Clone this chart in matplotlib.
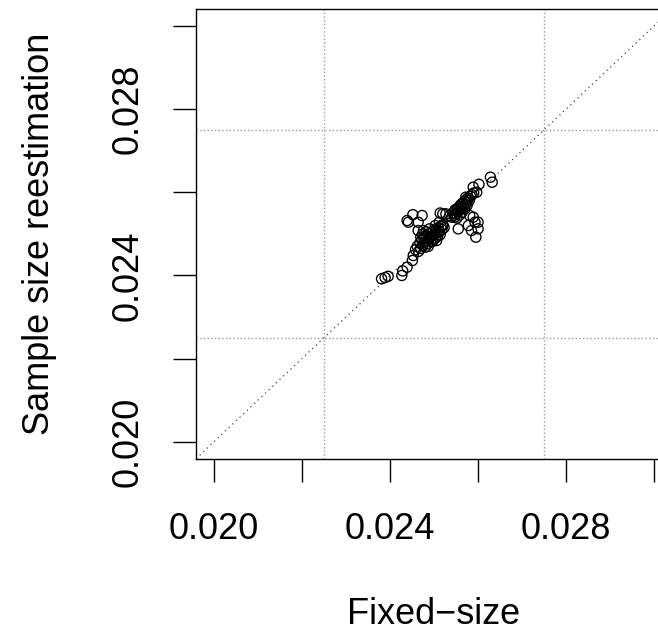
import matplotlib
matplotlib.use("Agg")
import matplotlib.pyplot as plt

plt.rcParams['font.family'] = ['Liberation Sans', 'DejaVu Sans']

# ---- data ----
fixed_size = [
    # lower-left tail
    0.02381, 0.02389, 0.02396, 0.02427, 0.02429, 0.02439, 0.02451, 0.02453,
    # upper-left outliers
    0.02439, 0.02442, 0.02452, 0.02464, 0.02473,
    # lower dense cluster
    0.02458, 0.02462, 0.02465, 0.02468, 0.02470, 0.02472, 0.02475, 0.02477,
    0.02479, 0.02480, 0.02482, 0.02484, 0.02486, 0.02488, 0.02489, 0.02491,
    0.02493, 0.02494, 0.02496, 0.02498, 0.02499, 0.02501, 0.02503, 0.02505,
    0.02506, 0.02508, 0.02510, 0.02512, 0.02514, 0.02516, 0.02518, 0.02520,
    0.02523, 0.02475, 0.02482, 0.02490, 0.02497, 0.02503, 0.02470, 0.02487,
    0.02464, 0.02476, 0.02506,
    # middle row
    0.02514, 0.02520, 0.02527, 0.02536, 0.02547, 0.02512, 0.02520, 0.02555,
    # upper dense cluster
    0.02540, 0.02543, 0.02546, 0.02549, 0.02551, 0.02553, 0.02555, 0.02557,
    0.02559, 0.02561, 0.02563, 0.02565, 0.02567, 0.02569, 0.02571, 0.02573,
    0.02575, 0.02577, 0.02580, 0.02583, 0.02586, 0.02590, 0.02552, 0.02558,
    0.02564, 0.02570, 0.02548, 0.02575,
    # right outliers
    0.02581, 0.02589, 0.02593, 0.02600, 0.02585, 0.02600, 0.02595, 0.02578,
    # upper tail
    0.02589, 0.02602, 0.02597, 0.02572, 0.02628, 0.02632,
]
sample_size_reest = [
    0.02392, 0.02395, 0.02398, 0.02400, 0.02411, 0.02420, 0.02436, 0.02448,
    0.02532, 0.02528, 0.02546, 0.02528, 0.02544,
    0.02462, 0.02470, 0.02458, 0.02478, 0.02465, 0.02485, 0.02472, 0.02490,
    0.02480, 0.02468, 0.02495, 0.02483, 0.02476, 0.02500, 0.02488, 0.02492,
    0.02481, 0.02503, 0.02495, 0.02486, 0.02508, 0.02498, 0.02490, 0.02510,
    0.02502, 0.02494, 0.02515, 0.02505, 0.02498, 0.02518, 0.02510, 0.02522,
    0.02515, 0.02500, 0.02505, 0.02512, 0.02482, 0.02520, 0.02492, 0.02470,
    0.02508, 0.02508, 0.02484,
    0.02550, 0.02548, 0.02548, 0.02544, 0.02540, 0.02528, 0.02520, 0.02512,
    0.02540, 0.02550, 0.02545, 0.02556, 0.02548, 0.02560, 0.02553, 0.02565,
    0.02558, 0.02570, 0.02562, 0.02574, 0.02566, 0.02578, 0.02570, 0.02582,
    0.02576, 0.02586, 0.02580, 0.02590, 0.02594, 0.02598, 0.02538, 0.02545,
    0.02552, 0.02560, 0.02558, 0.02568,
    0.02544, 0.02540, 0.02528, 0.02528, 0.02508, 0.02512, 0.02492, 0.02520,
    0.02612, 0.02619, 0.02600, 0.02588, 0.02636, 0.02624,
]
axis_range = [0.020, 0.030]
tick_vals = [0.020, 0.022, 0.024, 0.026, 0.028, 0.030]
tick_labels = ["0.020", "", "0.024", "", "0.028", ""]
grid_vals = [0.0225, 0.0275]
x_label = "Fixed\u2212size"
y_label = "Sample size reestimation"

# ---- figure ----
W, H = 658, 635
fig = plt.figure(figsize=(W / 100, H / 100), dpi=100)
ax = fig.add_axes([196 / W, (H - 458.7) / H, 476 / W, 449.7 / H])

ext = 0.04 * (axis_range[1] - axis_range[0])
ax.set_xlim(axis_range[0] - ext, axis_range[1] + ext)
ax.set_ylim(axis_range[0] - ext, axis_range[1] + ext)

for g in grid_vals:
    ax.axvline(g, color='#9a9a9a', ls=':', lw=1.0, zorder=1)
    ax.axhline(g, color='#9a9a9a', ls=':', lw=1.0, zorder=1)
ax.axline((axis_range[0], axis_range[0]), (axis_range[1], axis_range[1]),
          color='#444444', ls=(0, (1, 3)), lw=0.9, zorder=1)

ax.scatter(fixed_size, sample_size_reest, s=7.3 ** 2, facecolors='none',
           edgecolors='black', linewidths=0.95, zorder=3)

ax.set_xticks(tick_vals)
ax.set_xticklabels(tick_labels, fontsize=26)
ax.set_yticks(tick_vals)
ax.set_yticklabels(tick_labels, fontsize=26, rotation=90, va='center')
ax.tick_params(axis='x', direction='out', length=16.5, width=1.0, pad=22)
ax.tick_params(axis='y', direction='out', length=16.5, width=1.0, pad=20)

for s in ax.spines.values():
    s.set_linewidth(1.0)

ax.set_xlabel(x_label, fontsize=26, va='center')
ax.xaxis.set_label_coords(0.5, -(615 - 458.7) / 449.7)
ax.set_ylabel(y_label, fontsize=26, va='center')
ax.yaxis.set_label_coords((40 - 196) / 476, 0.5)

fig.savefig("out.png", dpi=100)
